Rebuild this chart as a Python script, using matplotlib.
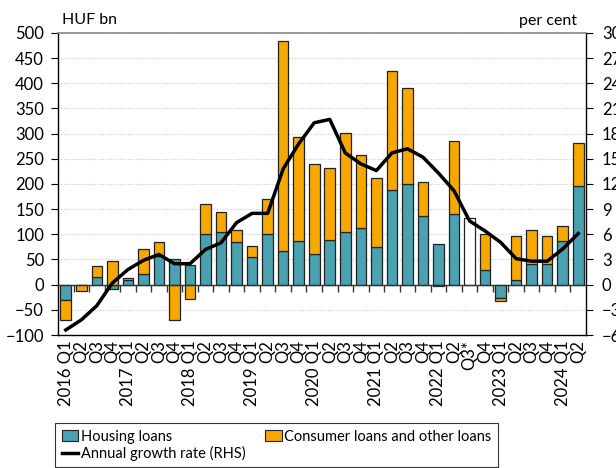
import matplotlib
matplotlib.use('Agg')
import matplotlib.pyplot as plt
from matplotlib.patches import Patch
from matplotlib.lines import Line2D
import numpy as np

quarters = ['2016 Q1', 'Q2', 'Q3', 'Q4', '2017 Q1', 'Q2', 'Q3', 'Q4',
            '2018 Q1', 'Q2', 'Q3', 'Q4', '2019 Q1', 'Q2', 'Q3', 'Q4',
            '2020 Q1', 'Q2', 'Q3', 'Q4', '2021 Q1', 'Q2', 'Q3', 'Q4',
            '2022 Q1', 'Q2', 'Q3*', 'Q4', '2023 Q1', 'Q2', 'Q3', 'Q4',
            '2024 Q1', 'Q2']
housing = [-31, 0, 15, -9, 9, 22, 57, 51, 40, 100, 104, 84, 54, 101, 67, 87,
           60, 88, 105, 113, 75, 188, 200, 136, 81, 140, np.nan, 30, -26.5, 10,
           41, 41, 87, 197]
consumer = [-39, -12, 22, 48, 4, 48, 27, -71, -28, 60, 40, 25, 22, 70, 418, 207,
            179, 143, 196, 145, 136, 236, 191, 68, -2, 145, np.nan, 71, -6.5, 87,
            67, 56, 29, 85]
q3_estimate_total = [np.nan] * 26 + [132] + [np.nan] * 7
growth = [-5.4, -4.2, -2.5, 0.2, 1.8, 2.9, 3.6, 2.5, 2.5, 4.2, 5.0, 7.4, 8.5, 8.5,
          13.8, 16.8, 19.3, 19.7, 15.7, 14.4, 13.6, 15.7, 16.2, 15.2, 13.3, 11.2,
          7.6, 6.4, 5.05, 3.1, 2.8, 2.8, 4.25, 6.1]

TEAL = '#4aa2b0'
ORANGE = '#f6a800'
EDGE = '#222222'

plt.rcParams['font.family'] = ['Lato', 'DejaVu Sans']
plt.rcParams['font.size'] = 12

fig = plt.figure(figsize=(6.16, 4.68), dpi=100)
ax = fig.add_axes([58/616, 1-335/468, (586-58)/616, (335-33)/468])

x = np.arange(len(quarters))
h = np.array(housing, dtype=float)
c = np.array(consumer, dtype=float)
h0 = np.nan_to_num(h)
# Excel-style stacking: positives up from 0, negatives down from 0
c_bottom = np.where(c >= 0, np.where(h0 > 0, h0, 0), np.where(h0 < 0, h0, 0))
w = 0.68
ax.bar(x, h, w, color=TEAL, edgecolor=EDGE, linewidth=0.9, zorder=3)
ax.bar(x, c, w, bottom=c_bottom, color=ORANGE, edgecolor=EDGE, linewidth=0.9, zorder=3)
ax.bar(x, q3_estimate_total, w, color='white', edgecolor=EDGE, linewidth=0.9, zorder=3)

ax.set_xlim(-0.5, len(quarters) - 0.5)
ax.set_ylim(-100, 500)
ax.set_yticks(np.arange(-100, 501, 50))
ax.yaxis.grid(True, linestyle=(0, (1, 1.5)), color='#c8c8c8', linewidth=0.8, zorder=0)
ax.set_axisbelow(True)

# zero line with small tick marks between categories
ax.axhline(0, color='#333333', linewidth=1.0, zorder=4)
bounds = x[:-1] + 0.5
ax.plot(bounds, np.zeros_like(bounds), linestyle='none', marker=3, markersize=5,
        markeredgewidth=1.0, color='#333333', zorder=4, clip_on=False)

ax.set_xticks(x)
ax.set_xticklabels(quarters, rotation=90, va='top', ha='center')
ax.tick_params(axis='x', length=0, pad=4)
ax.tick_params(axis='y', length=5, pad=5, direction='out')

for s in ['left', 'bottom', 'right']:
    ax.spines[s].set_color('black')
    ax.spines[s].set_linewidth(1.0)
ax.spines['top'].set_color('#888888')
ax.spines['top'].set_linewidth(1.2)

ax2 = ax.twinx()
ax2.plot(x, growth, color='black', linewidth=2.5, zorder=5, solid_joinstyle='round')
ax2.set_ylim(-6, 30)
ax2.set_yticks(np.arange(-6, 31, 3))
ax2.tick_params(axis='y', length=5, pad=6.5, direction='out')
for s in ax2.spines.values():
    s.set_visible(False)

fig.text(62/616, 1-20/468, 'HUF bn', ha='left', va='center', fontsize=11.5)
fig.text(577/616, 1-21/468, 'per cent', ha='right', va='center', fontsize=11.5)

handles = [Patch(facecolor=TEAL, edgecolor=EDGE, linewidth=0.8),
           Line2D([0], [0], color='black', linewidth=2.5),
           Patch(facecolor=ORANGE, edgecolor=EDGE, linewidth=0.8)]
labels = ['Housing loans', 'Annual growth rate (RHS)', 'Consumer loans and other loans']
leg = fig.legend(handles, labels, ncol=2, loc='upper left',
                 bbox_to_anchor=(55/616, 1-423/468, 443/616, 0.0), mode='expand',
                 frameon=True, fancybox=False, edgecolor='black', fontsize=10.5,
                 handlelength=1.15, handleheight=0.75, handletextpad=0.15,
                 borderaxespad=0, labelspacing=0.15, borderpad=0.45)
leg.get_frame().set_linewidth(0.8)

fig.savefig('out.png', dpi=100)
